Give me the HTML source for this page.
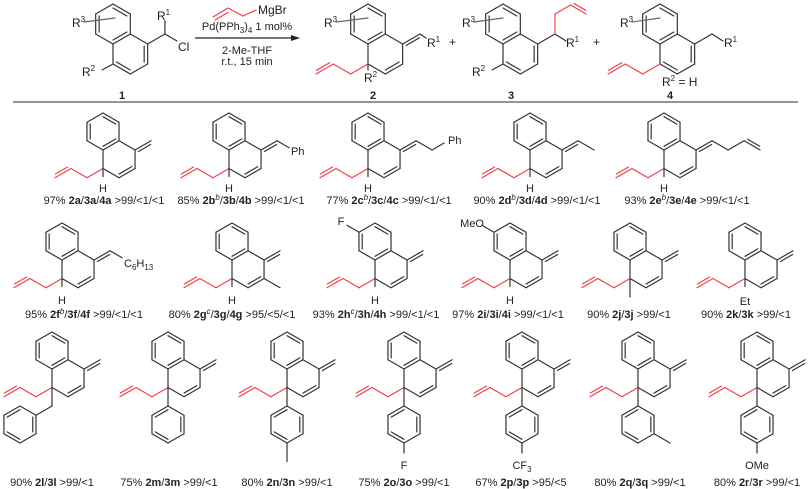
<!DOCTYPE html>
<html><head><meta charset="utf-8"><style>
html,body{margin:0;padding:0;background:#fff;}
svg{display:block;}
text{font-family:"Liberation Sans",Arial,sans-serif;fill:#222;}
.l{font-size:11px;text-anchor:middle;}
.b{font-weight:bold;}
.r{font-size:12px;}
</style></head><body>
<svg id="g" width="810" height="489" viewBox="0 0 810 489" xmlns="http://www.w3.org/2000/svg">
<line x1="13" y1="102" x2="798" y2="102" stroke="#555" stroke-width="1.3"/>
<line x1="195" y1="38" x2="293" y2="38" stroke="#222" stroke-width="1.2"/>
<polygon points="300,38 291,35 291,41" fill="#222"/>
<text x="258" y="14" class="r" font-size="11">MgBr</text>
<text x="247" y="30" class="l">Pd(PPh<tspan font-size="8" dy="3">3</tspan><tspan dy="-3">)</tspan><tspan font-size="8" dy="3">4</tspan><tspan dy="-3"> 1 mol%</tspan></text>
<text x="247" y="54" class="l">2-Me-THF</text>
<text x="247" y="65" class="l">r.t., 15 min</text>
<text x="72" y="27" class="r">R<tspan font-size="8" dy="-5">3</tspan></text>
<text x="157" y="20" class="r">R<tspan font-size="8" dy="-5">1</tspan></text>
<text x="178" y="51" class="r">Cl</text>
<text x="82" y="76" class="r">R<tspan font-size="8" dy="-5">2</tspan></text>
<text x="122" y="99" class="l b" font-size="12">1</text>
<text x="324" y="27" class="r">R<tspan font-size="8" dy="-5">3</tspan></text>
<text x="427" y="47" class="r">R<tspan font-size="8" dy="-5">1</tspan></text>
<text x="364" y="82" class="r">R<tspan font-size="8" dy="-5">2</tspan></text>
<text x="373" y="99" class="l b" font-size="12">2</text>
<text x="449" y="46" class="r">+</text>
<text x="462" y="27" class="r">R<tspan font-size="8" dy="-5">3</tspan></text>
<text x="566" y="47" class="r">R<tspan font-size="8" dy="-5">1</tspan></text>
<text x="472" y="76" class="r">R<tspan font-size="8" dy="-5">2</tspan></text>
<text x="511" y="99" class="l b" font-size="12">3</text>
<text x="593" y="46" class="r">+</text>
<text x="620" y="27" class="r">R<tspan font-size="8" dy="-5">3</tspan></text>
<text x="724" y="47" class="r">R<tspan font-size="8" dy="-5">1</tspan></text>
<text x="662" y="86" class="r">R<tspan font-size="8" dy="-5">2</tspan><tspan dy="5"> = H</tspan></text>
<text x="670" y="99" class="l b" font-size="12">4</text>
<text x="104" y="204" class="l">97% <tspan class="b">2a</tspan>/<tspan class="b">3a</tspan>/<tspan class="b">4a</tspan> &gt;99/&lt;1/&lt;1</text>
<text x="241" y="204" class="l">85% <tspan class="b">2b</tspan><tspan font-size="8" dy="-4" font-style="italic">b</tspan><tspan dy="4">/</tspan><tspan class="b">3b</tspan>/<tspan class="b">4b</tspan> &gt;99/&lt;1/&lt;1</text>
<text x="389" y="204" class="l">77% <tspan class="b">2c</tspan><tspan font-size="8" dy="-4" font-style="italic">b</tspan><tspan dy="4">/</tspan><tspan class="b">3c</tspan>/<tspan class="b">4c</tspan> &gt;99/&lt;1/&lt;1</text>
<text x="537" y="204" class="l">90% <tspan class="b">2d</tspan><tspan font-size="8" dy="-4" font-style="italic">b</tspan><tspan dy="4">/</tspan><tspan class="b">3d</tspan>/<tspan class="b">4d</tspan> &gt;99/&lt;1/&lt;1</text>
<text x="687" y="204" class="l">93% <tspan class="b">2e</tspan><tspan font-size="8" dy="-4" font-style="italic">b</tspan><tspan dy="4">/</tspan><tspan class="b">3e</tspan>/<tspan class="b">4e</tspan> &gt;99/&lt;1/&lt;1</text>
<text x="103" y="192" class="l">H</text>
<text x="229" y="192" class="l">H</text>
<text x="368" y="192" class="l">H</text>
<text x="530" y="192" class="l">H</text>
<text x="664" y="192" class="l">H</text>
<text x="291" y="155" font-size="11">Ph</text>
<text x="448" y="144" font-size="11">Ph</text>
<text x="84" y="318" class="l">95% <tspan class="b">2f</tspan><tspan font-size="8" dy="-4" font-style="italic">b</tspan><tspan dy="4">/</tspan><tspan class="b">3f</tspan>/<tspan class="b">4f</tspan> &gt;99/&lt;1/&lt;1</text>
<text x="232" y="318" class="l">80% <tspan class="b">2g</tspan><tspan font-size="8" dy="-4" font-style="italic">c</tspan><tspan dy="4">/</tspan><tspan class="b">3g</tspan>/<tspan class="b">4g</tspan> &gt;95/&lt;5/&lt;1</text>
<text x="376" y="318" class="l">93% <tspan class="b">2h</tspan><tspan font-size="8" dy="-4" font-style="italic">c</tspan><tspan dy="4">/</tspan><tspan class="b">3h</tspan>/<tspan class="b">4h</tspan> &gt;99/&lt;1/&lt;1</text>
<text x="508" y="318" class="l">97% <tspan class="b">2i</tspan>/<tspan class="b">3i</tspan>/<tspan class="b">4i</tspan> &gt;99/&lt;1/&lt;1</text>
<text x="629" y="318" class="l">90% <tspan class="b">2j</tspan>/<tspan class="b">3j</tspan> &gt;99/&lt;1</text>
<text x="746" y="318" class="l">90% <tspan class="b">2k</tspan>/<tspan class="b">3k</tspan> &gt;99/&lt;1</text>
<text x="62" y="304" class="l">H</text>
<text x="232" y="304" class="l">H</text>
<text x="375" y="304" class="l">H</text>
<text x="510" y="304" class="l">H</text>
<text x="745" y="305" class="l">Et</text>
<text x="124" y="267" font-size="11">C<tspan font-size="8" dy="3">6</tspan><tspan dy="-3">H</tspan><tspan font-size="8" dy="3">13</tspan></text>
<text x="341" y="225" class="l">F</text>
<text x="484" y="227" font-size="11" text-anchor="end">MeO</text>
<text x="52" y="486" class="l">90% <tspan class="b">2l</tspan>/<tspan class="b">3l</tspan> &gt;99/&lt;1</text>
<text x="169" y="486" class="l">75% <tspan class="b">2m</tspan>/<tspan class="b">3m</tspan> &gt;99/&lt;1</text>
<text x="287" y="486" class="l">80% <tspan class="b">2n</tspan>/<tspan class="b">3n</tspan> &gt;99/&lt;1</text>
<text x="404" y="486" class="l">75% <tspan class="b">2o</tspan>/<tspan class="b">3o</tspan> &gt;99/&lt;1</text>
<text x="521" y="486" class="l">67% <tspan class="b">2p</tspan>/<tspan class="b">3p</tspan> &gt;95/&lt;5</text>
<text x="640" y="486" class="l">80% <tspan class="b">2q</tspan>/<tspan class="b">3q</tspan> &gt;99/&lt;1</text>
<text x="757" y="486" class="l">80% <tspan class="b">2r</tspan>/<tspan class="b">3r</tspan> &gt;99/&lt;1</text>
<text x="404" y="469" class="l">F</text>
<text x="522" y="469" class="l">CF<tspan font-size="8" dy="3">3</tspan></text>
<text x="757" y="469" class="l">OMe</text>
</svg>
<script>
const NS="http://www.w3.org/2000/svg",svg=document.getElementById('g');
const s=Math.sqrt(3)/2, K="#333", RD="#f0404a";
function ln(a,b,c,w){const e=document.createElementNS(NS,'line');e.setAttribute('x1',a[0]);e.setAttribute('y1',a[1]);e.setAttribute('x2',b[0]);e.setAttribute('y2',b[1]);e.setAttribute('stroke',c||K);e.setAttribute('stroke-width',w||1.2);e.setAttribute('stroke-linecap','round');svg.appendChild(e);}
function hex(cx,cy,b){let v=[];for(let k=0;k<6;k++){let a=(-90+60*k)*Math.PI/180;v.push([cx+b*Math.cos(a),cy+b*Math.sin(a)]);}return v;}
function inner(p,q,c,col){const f=0.2;ln([p[0]+(c[0]-p[0])*f,p[1]+(c[1]-p[1])*f],[q[0]+(c[0]-q[0])*f,q[1]+(c[1]-q[1])*f],col);}
function ring(cx,cy,b,inn){const v=hex(cx,cy,b);for(let k=0;k<6;k++)ln(v[k],v[(k+1)%6]);inn.forEach(k=>inner(v[k],v[(k+1)%6],[cx,cy]));return v;}
function naph(cx,cy,b,arom){const T=ring(cx,cy,b,[0,2,4]);const lc=[cx+s*b,cy+1.5*b];const L=hex(lc[0],lc[1],b);for(let k=0;k<5;k++)ln(L[k],L[k+1]);(arom?[1,3]:[2]).forEach(k=>inner(L[k],L[k+1],lc));return {T,L,lc};}
function add(p,dx,dy){return [p[0]+dx,p[1]+dy];}
function dbl(p,q,col,side){const dx=q[0]-p[0],dy=q[1]-p[1],l=Math.hypot(dx,dy);let nx=-dy/l*3,ny=dx/l*3;if(side<0){nx=-nx;ny=-ny;}ln(p,q,col);ln([p[0]+nx+dx*0.12,p[1]+ny+dy*0.12],[q[0]+nx-dx*0.12,q[1]+ny-dy*0.12],col);}
function allyl(C,b){const p1=add(C,-s*b,.5*b),p2=add(p1,-s*b,-.5*b),p3=add(p2,-s*b,.5*b);ln(C,p1,RD);ln(p1,p2,RD);dbl(p2,p3,RD,1);}
function exo(L1,b){const E=add(L1,s*b,-.5*b);dbl(L1,E,K,1);return E;}
(function(){const b=20;
let n=naph(113,24,b,true);let CH=add(n.L[1],s*b,-.5*b);ln(n.L[1],CH);ln(CH,[CH[0],CH[1]-13]);ln(CH,add(CH,12,7));ln(n.L[4],add(n.L[4],-11,6));ln([84,22],[115,18],"#666");
n=naph(368,24,b,false);let E=exo(n.L[1],b);ln(E,add(E,6,4));allyl(n.L[4],b);ln(n.L[4],[n.L[4][0],n.L[4][1]+6]);ln([336,22],[368,18],"#666");
n=naph(503,24,b,true);CH=add(n.L[1],s*b,-.5*b);ln(n.L[1],CH);ln(CH,add(CH,11,7));let u=[CH[0],CH[1]-20];ln(CH,u,RD);let u2=add(u,s*b*0.9,-.5*b*0.9);ln(u,u2,RD);dbl(u2,add(u2,s*b*0.9,.5*b*0.9),RD,-1);ln(n.L[4],add(n.L[4],-11,6));ln([474,22],[503,18],"#666");
n=naph(660,24,b,true);CH=add(n.L[1],s*b,-.5*b);ln(n.L[1],CH);ln(CH,add(CH,11,7));allyl(n.L[4],b);ln([632,22],[660,18],"#666");
ln([213,17],[228,8],RD);ln([215,20],[228,12.5],RD);ln([228,8],[243,16],RD);ln([243,16],[256,10],RD);
})();
const b=18.5,rows=[131.5,241.5,350.5];
function prod(x,r){const n=naph(x,rows[r],b,false);allyl(n.L[4],b);return n;}
let n,E,D;
n=prod(103,0);exo(n.L[1],b);ln(n.L[4],add(n.L[4],0,8));
n=prod(229,0);E=exo(n.L[1],b);ln(E,add(E,12,7));ln(n.L[4],add(n.L[4],0,8));
n=prod(368,0);E=exo(n.L[1],b);D=add(E,s*b,.5*b);ln(E,D);ln(D,add(D,12,-7));ln(n.L[4],add(n.L[4],0,8));
n=prod(530,0);E=exo(n.L[1],b);ln(E,add(E,s*b,.5*b));ln(n.L[4],add(n.L[4],0,8));
n=prod(664,0);E=exo(n.L[1],b);D=add(E,s*b,.5*b);ln(E,D);let U=add(D,s*b,-.5*b);ln(D,U);dbl(U,add(U,s*b,.5*b),K,-1);ln(n.L[4],add(n.L[4],0,8));
n=prod(62,1);E=exo(n.L[1],b);ln(E,add(E,12,7));ln(n.L[4],add(n.L[4],0,8));
n=prod(232,1);exo(n.L[1],b);ln(n.L[2],add(n.L[2],s*b,.5*b));ln(n.L[4],add(n.L[4],0,8));
n=prod(375,1);exo(n.L[1],b);ln(n.T[5],add(n.T[5],-12,-7));ln(n.L[4],add(n.L[4],0,8));
n=prod(510,1);exo(n.L[1],b);ln(n.T[5],add(n.T[5],-12,-7));ln(n.L[4],add(n.L[4],0,8));
n=prod(630,1);exo(n.L[1],b);ln(n.L[4],add(n.L[4],0,b));
n=prod(745,1);exo(n.L[1],b);ln(n.L[4],add(n.L[4],0,8));
function aryl(x,sub){const n=prod(x,2);exo(n.L[1],b);const A=add(n.L[4],0,b);ln(n.L[4],A);const c=[x,A[1]+b];const v=ring(c[0],c[1],b,[1,3,5]);
 if(sub==='me')ln(v[3],add(v[3],0,b));if(sub==='lbl')ln(v[3],add(v[3],0,10));if(sub==='meta')ln(v[2],add(v[2],s*b,.5*b));}
(function(){const n=prod(52,2);exo(n.L[1],b);const A=add(n.L[4],0,b);ln(n.L[4],A);const V=add(A,-s*b,.5*b);ln(A,V);ring(V[0]-s*b,V[1]+.5*b,b,[1,3,5]);})();
aryl(168,'');aryl(287,'me');aryl(404,'lbl');aryl(522,'lbl');aryl(638,'meta');aryl(757,'lbl');
</script>
</body></html>
